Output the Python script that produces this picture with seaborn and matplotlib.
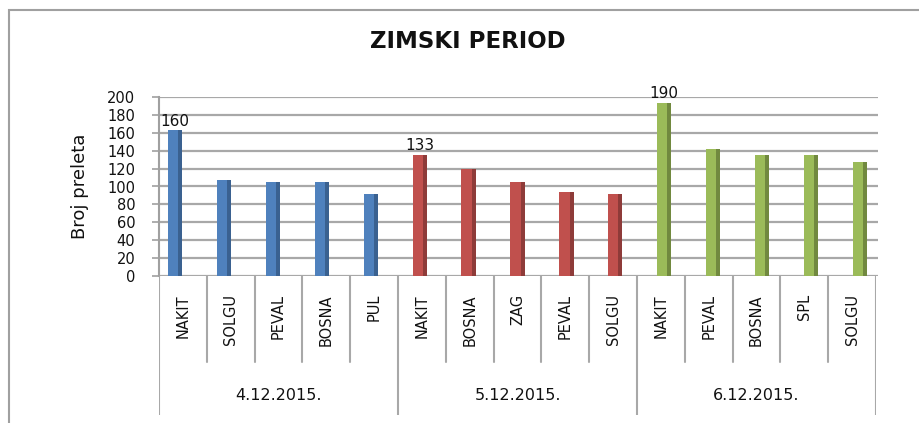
import matplotlib
matplotlib.use("Agg")
import matplotlib.pyplot as plt
import seaborn as sns
import pandas as pd
from matplotlib.patches import Rectangle

days = ["4.12.2015.", "5.12.2015.", "6.12.2015."]
carriers_d1 = ["NAKIT", "SOLGU", "PEVAL", "BOSNA", "PUL"]
carriers_d2 = ["NAKIT", "BOSNA", "ZAG", "PEVAL", "SOLGU"]
carriers_d3 = ["NAKIT", "PEVAL", "BOSNA", "SPL", "SOLGU"]
values_d1 = [160, 105, 103, 103, 90]
values_d2 = [133, 118, 103, 92, 90]
values_d3 = [190, 140, 133, 133, 125]
labelled = [160, 133, 190]
colors = ["#4F81BD", "#C0504D", "#9BBB59"]
dark_colors = ["#3A6190", "#8E3B39", "#71893F"]
y_ticks = list(range(0, 201, 20))

rows = []
for d, cs, vs in zip(days, [carriers_d1, carriers_d2, carriers_d3], [values_d1, values_d2, values_d3]):
    for c, v in zip(cs, vs):
        rows.append({"day": d, "carrier": c, "key": d + "|" + c, "value": v})
df = pd.DataFrame(rows)
order = list(df["key"])

sns.set_theme(style="white")
plt.rcParams["font.family"] = ["DejaVu Sans"]

W, H = 919, 423
fig = plt.figure(figsize=(W / 100, H / 100), dpi=100)

def fx(px):
    return px / W

def fy(py):
    return 1 - py / H

# outer frame
fig.patches.append(Rectangle((fx(9), -0.1), 1.2, fy(10) + 0.1, transform=fig.transFigure,
                             fill=False, edgecolor="#a0a0a0", linewidth=1.5, zorder=0))

y0, y200 = 276, 97
# background axes: gridlines + y axis
ax_bg = fig.add_axes([fx(159), fy(y0), fx(878) - fx(159), fy(y200) - fy(y0)])
ax_bg.set_ylim(0, 200)
ax_bg.set_xlim(0, 1)
ax_bg.set_yticks(y_ticks)
ax_bg.set_yticklabels([str(t) for t in y_ticks], fontsize=10.5, color="#111111")
ax_bg.set_xticks([])
for t in y_ticks:
    ax_bg.axhline(t, color="#a8a8a8", linewidth=1.6, zorder=0)
for s in ["top", "right", "bottom"]:
    ax_bg.spines[s].set_visible(False)
ax_bg.spines["left"].set_color("#a0a0a0")
ax_bg.spines["left"].set_linewidth(1.5)
ax_bg.tick_params(axis="y", length=5, width=1.2, color="#a0a0a0", pad=12, left=True)
ax_bg.set_ylabel("Broj preleta", fontsize=13, labelpad=13, color="#111111")
ax_bg.set_facecolor("none")

# bars axes (perspective spread)
ax = fig.add_axes([fx(150.5), fy(y0), fx(884.5) - fx(150.5), fy(94) - fy(y0)])
sns.barplot(data=df, x="key", y="value", hue="day", order=order, palette=colors,
            dodge=False, width=0.29, ax=ax, legend=False, saturation=1, linewidth=0)
ax.set_xlim(-0.5, len(order) - 0.5)
ax.set_ylim(0, 200)
ax.axis("off")
ax.patch.set_alpha(0)
# darker right face for a 3D look, derived from each drawn bar
day_index = {d: k for k, d in enumerate(days)}
for p, d in zip(list(ax.patches), df["day"]):
    x, w, h = p.get_x(), p.get_width(), p.get_height()
    ax.add_patch(Rectangle((x + w * 0.72, 0), w * 0.28, h, facecolor=dark_colors[day_index[d]],
                           linewidth=0, zorder=p.get_zorder() + 0.1))
for i, v in enumerate(df["value"]):
    if v in labelled and df["carrier"].iloc[i] == "NAKIT":
        ax.text(i, v + 2, str(v), ha="center", va="bottom", fontsize=11, color="#111111")

# category axes
cat_top, cat_bot = 276, 415
ax_c = fig.add_axes([fx(159), fy(cat_bot), fx(876) - fx(159), fy(cat_top) - fy(cat_bot)])
ax_c.set_xlim(0, len(order))
ax_c.set_ylim(0, 1)
ax_c.axis("off")
inner_frac = 1 - (362 - cat_top) / (cat_bot - cat_top)
label_y = 1 - (294 - cat_top) / (cat_bot - cat_top)
date_y = 1 - (395 - cat_top) / (cat_bot - cat_top)
for b in range(len(order) + 1):
    if b % 5 == 0:
        ax_c.axvline(b, ymin=0, ymax=1, color="#a8a8a8", linewidth=1.5)
    else:
        ax_c.axvline(b, ymin=inner_frac, ymax=1, color="#a8a8a8", linewidth=1.5)
for i, c in enumerate(df["carrier"]):
    ax_c.text(i + 0.5, label_y, c, rotation=90, ha="center", va="top", fontsize=10.5, color="#111111")
for g, d in enumerate(days):
    ax_c.text(g * 5 + 2.5, date_y, d, ha="center", va="center", fontsize=11.5, color="#111111")

fig.text(fx(468), fy(42), "ZIMSKI PERIOD", ha="center", va="center", fontsize=16.5,
         fontweight="bold", color="#111111")

fig.savefig("out.png", dpi=100)
